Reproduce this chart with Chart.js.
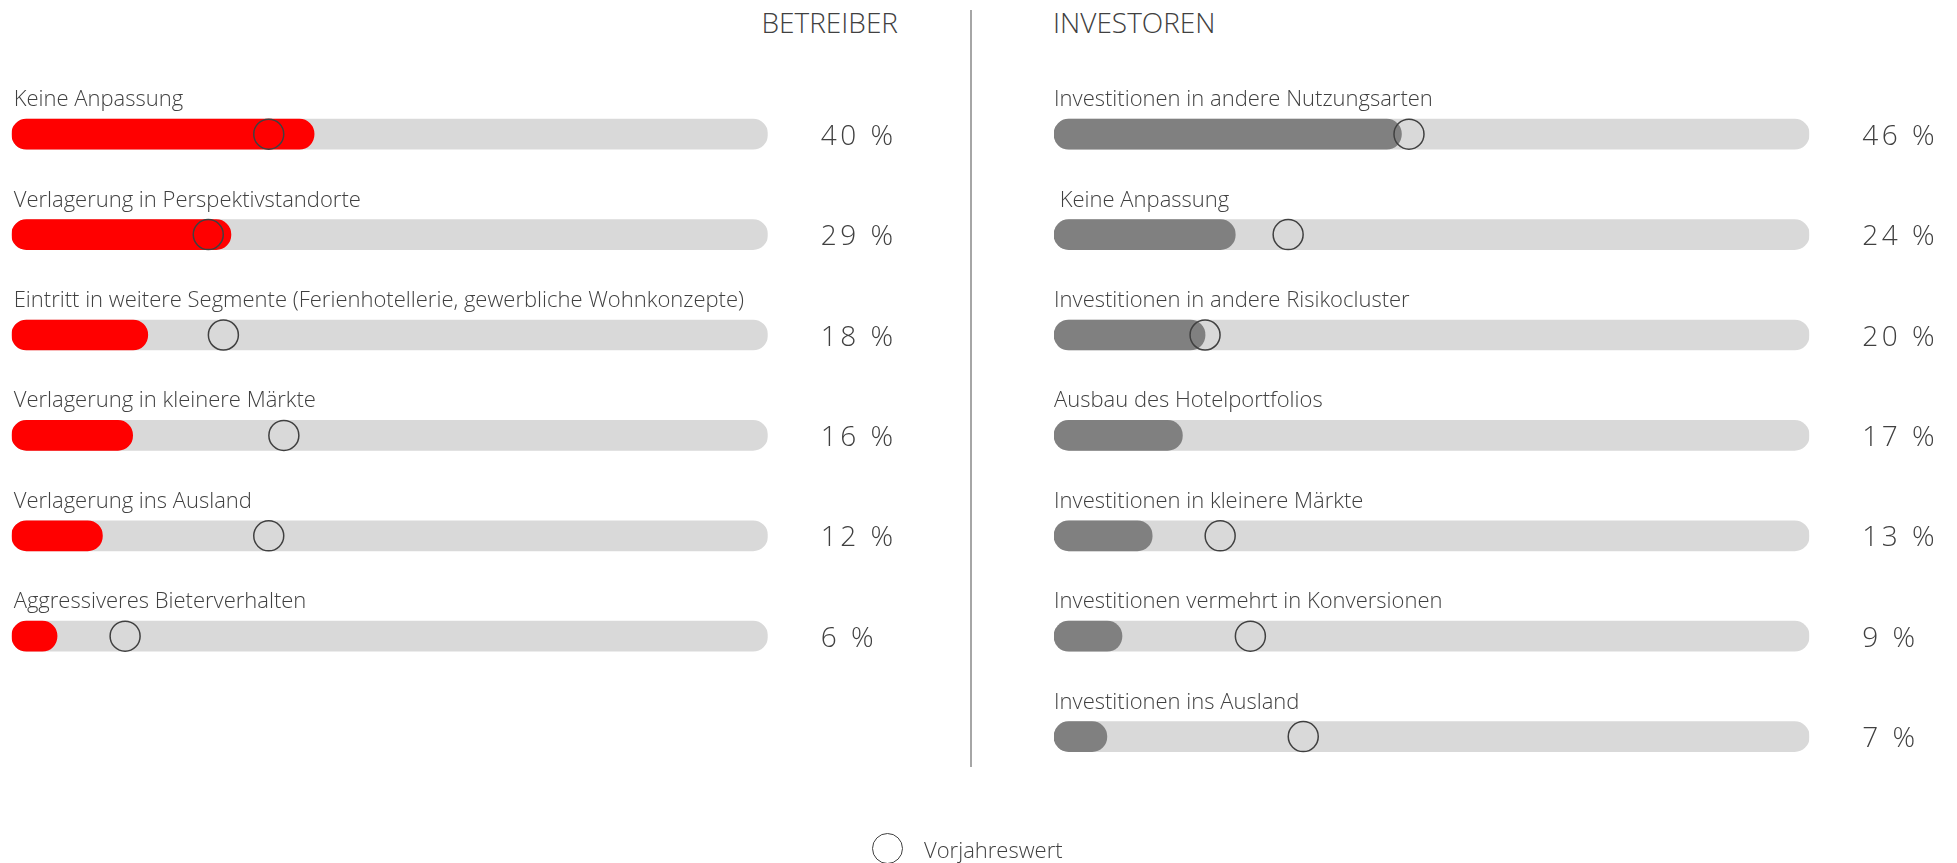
<!DOCTYPE html>
<html lang="de">
<head>
<meta charset="utf-8">
<title>Betreiber und Investoren</title>
<script src="https://cdn.jsdelivr.net/npm/chart.js@4/dist/chart.umd.min.js"></script>
<style>
  html, body { margin: 0; padding: 0; background: #fff; }
  body {
    width: 1957px; height: 863px; position: relative; overflow: hidden;
    font-family: "Open Sans", sans-serif; font-weight: 300; color: #404040;
  }
  #links { position: absolute; left: 0; top: 0; width: 960px; height: 863px; }
  #rechts { position: absolute; left: 960px; top: 0; width: 997px; height: 863px; }
  .titel { position: absolute; top: 4px; font-size: 28px; line-height: 36px; white-space: nowrap; }
  #titel_betreiber { right: 1059px; }
  #titel_investoren { left: 1053px; }
  #trenner { position: absolute; left: 970px; top: 10px; width: 2px; height: 757px; background: #a6a6a6; }
  #legende_kreis {
    position: absolute; left: 872px; top: 833px; width: 29px; height: 29px;
    border: 1.5px solid #404040; border-radius: 50%;
  }
  #legende_text { position: absolute; left: 924px; top: 834px; font-size: 22px; line-height: 30px; }
</style>
</head>
<body>
<div class="titel" id="titel_betreiber">BETREIBER</div>
<div class="titel" id="titel_investoren">INVESTOREN</div>
<div id="trenner"></div>
<div id="links"><canvas id="betreiberChart"></canvas></div>
<div id="rechts"><canvas id="investorenChart"></canvas></div>
<div id="legende_kreis"></div>
<div id="legende_text">Vorjahreswert</div>

<script>
const skalaMax = 100;

const betreiberKategorien = [
    'Keine Anpassung',
    'Verlagerung in Perspektivstandorte',
    'Eintritt in weitere Segmente (Ferienhotellerie, gewerbliche Wohnkonzepte)',
    'Verlagerung in kleinere Märkte',
    'Verlagerung ins Ausland',
    'Aggressiveres Bieterverhalten'
];
const betreiberWerte = [40, 29, 18, 16, 12, 6];
const betreiberVorjahr = [34, 26, 28, 36, 34, 15];

const investorenKategorien = [
    'Investitionen in andere Nutzungsarten',
    ' Keine Anpassung',
    'Investitionen in andere Risikocluster',
    'Ausbau des Hotelportfolios',
    'Investitionen in kleinere Märkte',
    'Investitionen vermehrt in Konversionen',
    'Investitionen ins Ausland'
];
const investorenWerte = [46, 24, 20, 17, 13, 9, 7];
const investorenVorjahr = [47, 31, 20, null, 22, 26, 33];

// Beschriftung über dem Balken und Prozentwert rechts daneben
const zeilenText = {
    id: 'zeilenText',
    afterDatasetsDraw(chart, args, opts) {
        const { ctx, chartArea, scales } = chart;
        const werte = chart.data.datasets[1].data;
        ctx.save();
        ctx.fillStyle = '#404040';
        ctx.textAlign = 'left';
        ctx.textBaseline = 'alphabetic';
        chart.data.labels.forEach((label, i) => {
            const y = scales.y.getPixelForValue(i);
            ctx.font = '300 22px "Open Sans"';
            ctx.letterSpacing = '0px';
            ctx.fillText(label, chartArea.left + (opts.einzug || 0), y - 28);
            ctx.font = '300 28px "Open Sans"';
            ctx.letterSpacing = '3.5px';
            ctx.fillText(werte[i] + ' %', chartArea.right + 53, y + 10.5);
        });
        ctx.restore();
    }
};

function baueDiagramm(id, kategorien, werte, vorjahr, farbe, polster, einzug) {
    return new Chart(document.getElementById(id), {
        type: 'bar',
        data: {
            labels: kategorien,
            datasets: [{
                type: 'line',
                label: 'Vorjahreswert',
                indexAxis: 'y',
                data: vorjahr,
                showLine: false,
                pointRadius: 15,
                pointHoverRadius: 15,
                pointBorderWidth: 1.5,
                pointBorderColor: '#404040',
                pointBackgroundColor: 'rgba(0,0,0,0)',
                order: 0
            }, {
                label: 'Wert',
                data: werte,
                backgroundColor: farbe,
                borderRadius: 15,
                borderSkipped: false,
                barThickness: 30,
                grouped: false,
                order: 1
            }, {
                label: 'Skala',
                data: kategorien.map(() => skalaMax),
                backgroundColor: '#d9d9d9',
                borderRadius: 15,
                borderSkipped: false,
                barThickness: 30,
                grouped: false,
                order: 2
            }]
        },
        options: {
            indexAxis: 'y',
            responsive: true,
            maintainAspectRatio: false,
            animation: false,
            layout: { padding: polster, autoPadding: false },
            scales: {
                x: { display: false, min: 0, max: skalaMax },
                y: { display: false }
            },
            plugins: {
                legend: { display: false },
                tooltip: { enabled: false },
                zeilenText: { einzug: einzug }
            }
        },
        plugins: [zeilenText]
    });
}

const betreiberChart = baueDiagramm('betreiberChart', betreiberKategorien, betreiberWerte, betreiberVorjahr, '#ff0000',
    { left: 11.7, right: 192.3, top: 84, bottom: 176.6 }, 2);
const investorenChart = baueDiagramm('investorenChart', investorenKategorien, investorenWerte, investorenVorjahr, '#808080',
    { left: 94, right: 147.7, top: 84, bottom: 76.2 }, 0);
</script>
</body>
</html>
